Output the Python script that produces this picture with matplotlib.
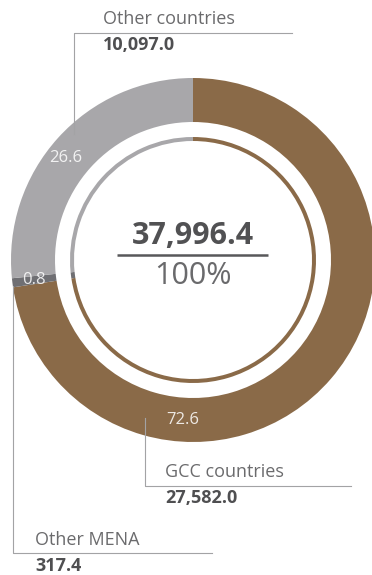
import matplotlib
matplotlib.use("Agg")
import matplotlib.pyplot as plt

plt.rcParams['font.family'] = ['Open Sans', 'DejaVu Sans']

# revenue split by region
regions = ['GCC countries', 'Other MENA', 'Other countries']
amounts = [27582.0, 317.4, 10097.0]
shares = [72.6, 0.8, 26.6]
total = 37996.4
colors = ['#8a6a48', '#6f6f73', '#a8a7aa']

W, H = 372, 575
fig = plt.figure(figsize=(W / 100, H / 100), dpi=100)
ax = fig.add_axes([0, 0, 1, 1])


def Y(y):
    # work in image-style coordinates (y grows downwards)
    return H - y


cx, cy = 193, 260

# outer ring
ax.pie(shares, colors=colors, startangle=90, counterclock=False,
       center=(cx, Y(cy)), radius=182,
       wedgeprops=dict(width=44, linewidth=0))
# thin inner ring
ax.pie(shares, colors=colors, startangle=90, counterclock=False,
       center=(cx, Y(cy)), radius=123,
       wedgeprops=dict(width=4, linewidth=0))

ax.set_xlim(0, W)
ax.set_ylim(0, H)
ax.set_aspect('equal')
ax.axis('off')

# share labels on the ring
pct_pos = {'GCC countries': (183, 420), 'Other MENA': (34, 280), 'Other countries': (66, 158)}
for name, s in zip(regions, shares):
    px, py = pct_pos[name]
    ax.text(px, Y(py), f"{s:.1f}", ha='center', va='center', fontsize=12,
            color='white', alpha=0.85)

# total in the middle
ax.text(cx, Y(236), f"{total:,.1f}", ha='center', va='center', fontsize=22,
        fontweight='bold', color='#515153')
ax.plot([117, 268], [Y(255), Y(255)], color='#58585a', lw=1.8, solid_capstyle='butt')
ax.text(cx, Y(276), "100%", ha='center', va='center', fontsize=22,
        color='#6a6a6c')

# leader lines and callouts
line_kw = dict(color='#a3a3a5', lw=0.8)
callouts = {
    'Other countries': dict(path=[(74, 134), (74, 33), (292, 33)], txt=(103, 19)),
    'GCC countries': dict(path=[(145, 418), (145, 486), (351, 486)], txt=(165, 472)),
    'Other MENA': dict(path=[(13, 286), (13, 553), (212, 553)], txt=(35, 540)),
}
for name, amt in zip(regions, amounts):
    c = callouts[name]
    xs = [p[0] for p in c['path']]
    ys = [Y(p[1]) for p in c['path']]
    ax.plot(xs, ys, **line_kw)
    tx, ty = c['txt']
    ax.text(tx, Y(ty), name, ha='left', va='center', fontsize=13,
            color='#6b6b6d')
    ax.text(tx, Y(ty + 26), f"{amt:,.1f}", ha='left', va='center', fontsize=13,
            color='#4f4f51', fontweight='bold')

fig.savefig("out.png", dpi=100)
